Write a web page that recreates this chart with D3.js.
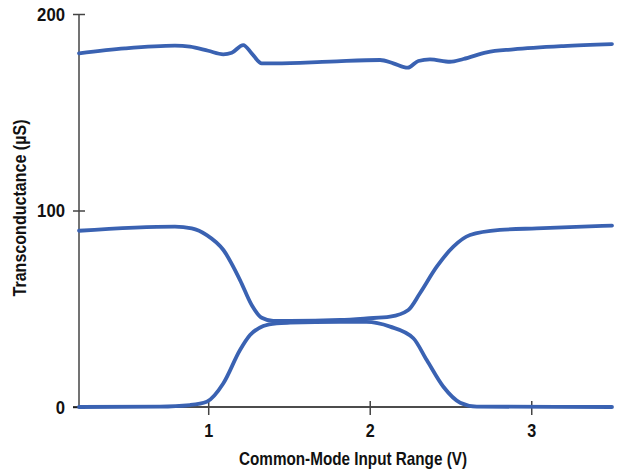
<html>
<head>
  <meta charset="utf-8">
  <title>Transconductance vs Common-Mode Input Range</title>
  <style>
    body { margin: 0; background: #fff; }
    text { font-family: "Liberation Sans", Arial, sans-serif; font-weight: bold; }
  </style>
  <script src="https://cdn.jsdelivr.net/npm/d3@7"></script>
</head>
<body>
  <div id="chart"></div>
  <script>
    // ---- data ----
    const xTicks = [1, 2, 3];
    const yTicks = [0, 100, 200];

    // total gm (top curve)
    const totalX = [0.2, 0.485, 0.794, 0.887, 1.0, 1.093, 1.146, 1.217, 1.269, 1.331, 1.414, 1.754, 2.064, 2.146, 2.235, 2.301, 2.373, 2.497, 2.58, 2.724, 2.889, 3.199, 3.5];
    const totalY = [180.0, 182.5, 183.9, 183.4, 181.3, 179.5, 180.3, 184.2, 180.0, 174.9, 174.9, 175.8, 176.6, 174.9, 172.7, 176.1, 176.9, 175.7, 177.1, 180.5, 182.0, 183.7, 184.7];

    // curve going 90 -> 44 -> 92
    const midX = [0.2, 0.794, 0.898, 0.991, 1.094, 1.197, 1.269, 1.331, 1.403, 1.507, 1.816, 1.98, 2.126, 2.239, 2.311, 2.415, 2.518, 2.621, 2.807, 3.034, 3.5];
    const midY = [89.7, 91.8, 90.9, 87.5, 79.9, 64.6, 51.9, 45.4, 43.8, 43.8, 44.3, 45.1, 46.0, 49.4, 57.9, 71.4, 81.6, 87.5, 90.1, 90.9, 92.3];

    // curve going 0 -> 43 -> 0
    const lowX = [0.2, 0.7, 0.887, 0.991, 1.094, 1.197, 1.259, 1.341, 1.424, 1.507, 1.816, 1.98, 2.126, 2.27, 2.353, 2.456, 2.56, 2.663, 3.5];
    const lowY = [0, 0.2, 1.0, 2.7, 12.1, 29.0, 36.6, 41.2, 42.6, 42.9, 43.3, 43.3, 40.9, 35.0, 23.9, 10.3, 2.2, 0.2, 0];

    const width = 618, height = 470;
    const margin = { top: 14, right: 6, bottom: 63, left: 79 };

    const svg = d3.select("#chart").append("svg")
      .attr("width", width)
      .attr("height", height);

    const x = d3.scaleLinear().domain([0.2, 3.5]).range([margin.left, width - margin.right]);
    const y = d3.scaleLinear().domain([0, 200]).range([height - margin.bottom, margin.top]);

    // y axis
    const yAxis = svg.append("g")
      .attr("transform", "translate(" + margin.left + ",0)")
      .call(d3.axisLeft(y).tickValues(yTicks).tickFormat(d3.format("d")).tickSize(6).tickPadding(8));
    yAxis.select(".domain").attr("stroke", "#444").attr("stroke-width", 1.5).attr("d", "M0," + y(200) + "V" + y(0));
    yAxis.selectAll(".tick line").attr("stroke", "#444").attr("stroke-width", 1.5).attr("x1", 6);
    yAxis.selectAll(".tick text").attr("font-size", 19).attr("fill", "#111").attr("textLength", function(d) { return String(d).length * 9.3; }).attr("lengthAdjust", "spacingAndGlyphs");

    // x axis
    const xAxis = svg.append("g")
      .attr("transform", "translate(0," + y(0) + ")")
      .call(d3.axisBottom(x).tickValues(xTicks).tickFormat(d3.format("d")).tickSize(8).tickPadding(9));
    xAxis.select(".domain").attr("stroke", "#111").attr("stroke-width", 1.5).attr("d", "M" + (margin.left - 6) + ",0H" + x(3.5));
    xAxis.selectAll(".tick line").attr("stroke", "#444").attr("stroke-width", 1.5).attr("y1", -6);
    xAxis.selectAll(".tick text").attr("font-size", 19).attr("fill", "#111").attr("textLength", 9).attr("lengthAdjust", "spacingAndGlyphs");

    // lines
    const line = d3.line()
      .x(d => x(d[0]))
      .y(d => y(d[1]))
      .curve(d3.curveMonotoneX);

    const series = [
      d3.zip(totalX, totalY),
      d3.zip(midX, midY),
      d3.zip(lowX, lowY)
    ];

    svg.append("g").selectAll("path")
      .data(series)
      .join("path")
      .attr("d", line)
      .attr("fill", "none")
      .attr("stroke", "#3a62b2")
      .attr("stroke-width", 3.8)
      .attr("stroke-linecap", "round")
      .attr("stroke-linejoin", "round");

    // axis titles
    svg.append("text")
      .attr("x", 353)
      .attr("y", 465)
      .attr("text-anchor", "middle")
      .attr("font-size", 19)
      .attr("fill", "#111")
      .attr("textLength", 228)
      .attr("lengthAdjust", "spacingAndGlyphs")
      .text("Common-Mode Input Range (V)");

    svg.append("text")
      .attr("transform", "translate(26,208) rotate(-90)")
      .attr("text-anchor", "middle")
      .attr("font-size", 19)
      .attr("fill", "#111")
      .attr("textLength", 177)
      .attr("lengthAdjust", "spacingAndGlyphs")
      .text("Transconductance (\u00b5S)");
  </script>
</body>
</html>
